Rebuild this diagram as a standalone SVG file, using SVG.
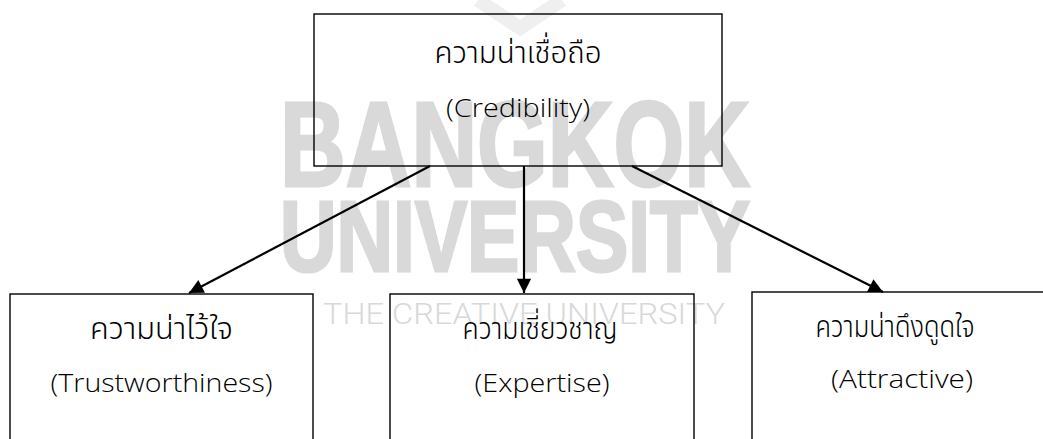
<svg xmlns="http://www.w3.org/2000/svg" width="1043" height="439" viewBox="0 0 1043 439">
<style>
.box{fill:none;stroke:#000;stroke-width:1.4}
.lbl{font-family:"Open Sans","Noto Sans","Noto Sans Thai",sans-serif;font-weight:300;font-size:26px;fill:#000;text-anchor:middle}
.th{font-family:"Noto Sans Thai","Noto Sans","Open Sans",sans-serif;font-weight:300;font-size:31px}
.wm{fill:#d9d9d9;stroke:#d9d9d9;stroke-width:3;font-family:"Liberation Sans Narrow","Liberation Sans",sans-serif;font-weight:bold}
.wm2{fill:#d9d9d9;font-family:Roboto,"Liberation Sans",sans-serif;font-weight:300}
.conn{stroke:#000;stroke-width:2.2;fill:none}
</style>
<defs>
<marker id="ah" viewBox="0 0 10 10" refX="10" refY="5" markerWidth="7.5" markerHeight="6.5" orient="auto" markerUnits="strokeWidth">
<path d="M0,0 L10,5 L0,10 z" fill="#000"/>
</marker>
</defs>
<rect width="1043" height="439" fill="#fff"/>
<g id="watermark">
<polyline points="478,0 520,28 562,0" fill="none" stroke="#efefef" stroke-width="14"/>
<text class="wm" x="280" y="186" font-size="120" textLength="470" lengthAdjust="spacingAndGlyphs">BANGKOK</text>
<text class="wm" x="280" y="271" font-size="100" textLength="470" lengthAdjust="spacingAndGlyphs">UNIVERSITY</text>
<text class="wm2" x="323" y="324" font-size="30" textLength="402" lengthAdjust="spacingAndGlyphs">THE CREATIVE UNIVERSITY</text>
</g>
<g id="node-credibility">
<rect class="box" x="314" y="14" width="408" height="152"/>
<text class="lbl th" x="518" y="63" textLength="167" lengthAdjust="spacingAndGlyphs">ความน่าเชื่อถือ</text>
<text class="lbl" x="518" y="117" textLength="144" lengthAdjust="spacingAndGlyphs">(Credibility)</text>
</g>
<g id="node-trust">
<rect class="box" x="10" y="294" width="303" height="160"/>
<text class="lbl th" x="161.5" y="339" textLength="143" lengthAdjust="spacingAndGlyphs">ความน่าไว้ใจ</text>
<text class="lbl" x="161.5" y="392" textLength="222" lengthAdjust="spacingAndGlyphs">(Trustworthiness)</text>
</g>
<g id="node-expertise">
<rect class="box" x="390" y="294" width="304" height="160"/>
<text class="lbl th" x="540" y="339" textLength="155" lengthAdjust="spacingAndGlyphs">ความเชี่ยวชาญ</text>
<text class="lbl" x="542" y="392" textLength="135" lengthAdjust="spacingAndGlyphs">(Expertise)</text>
</g>
<g id="node-attractive">
<rect class="box" x="752" y="292" width="300" height="160"/>
<text class="lbl th" x="895" y="337" textLength="159" lengthAdjust="spacingAndGlyphs">ความน่าดึงดูดใจ</text>
<text class="lbl" x="902" y="388" textLength="142" lengthAdjust="spacingAndGlyphs">(Attractive)</text>
</g>
<g id="connectors">
<line class="conn" x1="430" y1="166" x2="189" y2="293" marker-end="url(#ah)"/>
<line class="conn" x1="524" y1="166" x2="524" y2="293" marker-end="url(#ah)"/>
<line class="conn" x1="632" y1="166" x2="883" y2="292" marker-end="url(#ah)"/>
</g>
</svg>
